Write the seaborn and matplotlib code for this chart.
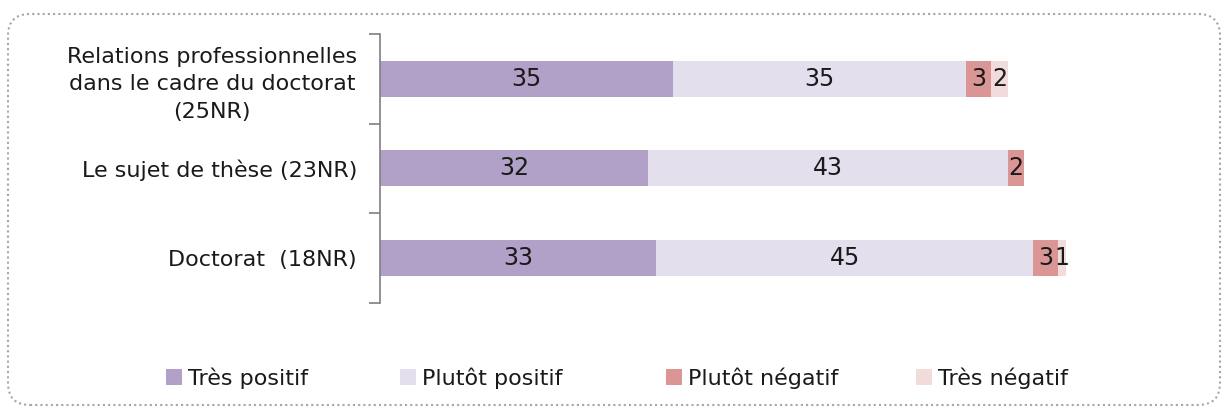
import numpy as np
import pandas as pd
import matplotlib
matplotlib.use("Agg")
import matplotlib.pyplot as plt
from matplotlib.patches import Patch, FancyBboxPatch
import seaborn as sns

categories = ["Relations professionnelles\ndans le cadre du doctorat\n(25NR)",
              "Le sujet de thèse (23NR)",
              "Doctorat  (18NR)"]
series_names = ["Très positif", "Plutôt positif", "Plutôt négatif", "Très négatif"]
tres_positif = [35, 32, 33]
plutot_positif = [35, 43, 45]
plutot_negatif = [3, 2, 3]
tres_negatif = [2, 0, 1]
colors = ["#B1A0C7", "#E4DFEC", "#DA9694", "#F2DCDB"]

sns.set_theme(style="white")
plt.rcParams["font.family"] = ["DejaVu Sans"]

FS = 16

values = np.array([tres_positif, plutot_positif, plutot_negatif, tres_negatif], dtype=float)
cum = np.cumsum(values, axis=0)

fig = plt.figure(figsize=(12.24, 4.09), dpi=100)
ax = fig.add_axes([380/1224, 106.5/409, 825/1224, 268.5/409])

for i in range(3, -1, -1):
    df = pd.DataFrame({"cat": categories, "val": cum[i]})
    sns.barplot(data=df, x="val", y="cat", orient="h", color=colors[i],
                width=0.4, saturation=1, ax=ax, linewidth=0, edgecolor="none")

for i in range(4):
    for j in range(3):
        v = values[i, j]
        if v > 0:
            ax.text(cum[i, j] - v / 2, j, f"{int(v)}", ha="center", va="center",
                    fontsize=FS + 1, color="#1a1a1a")

ax.set_xlim(0, 825/8.37)
ax.set_ylim(2.5, -0.5)
ax.set_xlabel("")
ax.set_ylabel("")
ax.set_xticks([])
for s in ["top", "right", "bottom"]:
    ax.spines[s].set_visible(False)
ax.spines["left"].set_color("#7F7F7F")
ax.spines["left"].set_linewidth(1.2)
ax.set_yticks([0, 1, 2])
ax.set_yticklabels(categories, fontsize=FS, color="#1a1a1a", ha="right",
                   multialignment="center", linespacing=1.45)
ax.set_yticks([-0.5, 0.5, 1.5, 2.5], minor=True)
ax.tick_params(axis="y", which="major", left=True, length=0, pad=16.5)
ax.tick_params(axis="y", which="minor", left=True, length=8, width=1.2,
               color="#7F7F7F", direction="out")

handles = [Patch(facecolor=c, edgecolor="none") for c in colors]
leg_x = [166, 400, 666, 916]
for h, name, x in zip(handles, series_names, leg_x):
    lg = fig.legend([h], [name], loc="center left", bbox_to_anchor=(x/1224, 31/409),
                    frameon=False, fontsize=FS, handlelength=0.7, handleheight=0.7,
                    handletextpad=0.3, borderpad=0, borderaxespad=0,
                    labelcolor="#1a1a1a")

border = FancyBboxPatch((8, 4), 1212, 391, boxstyle="round,pad=0,rounding_size=22",
                        transform=None, fill=False, edgecolor="#A6A6A6",
                        linestyle=(0, (1, 1.5)), linewidth=1.5)
fig.patches.append(border)

fig.savefig("out.png", dpi=100)
